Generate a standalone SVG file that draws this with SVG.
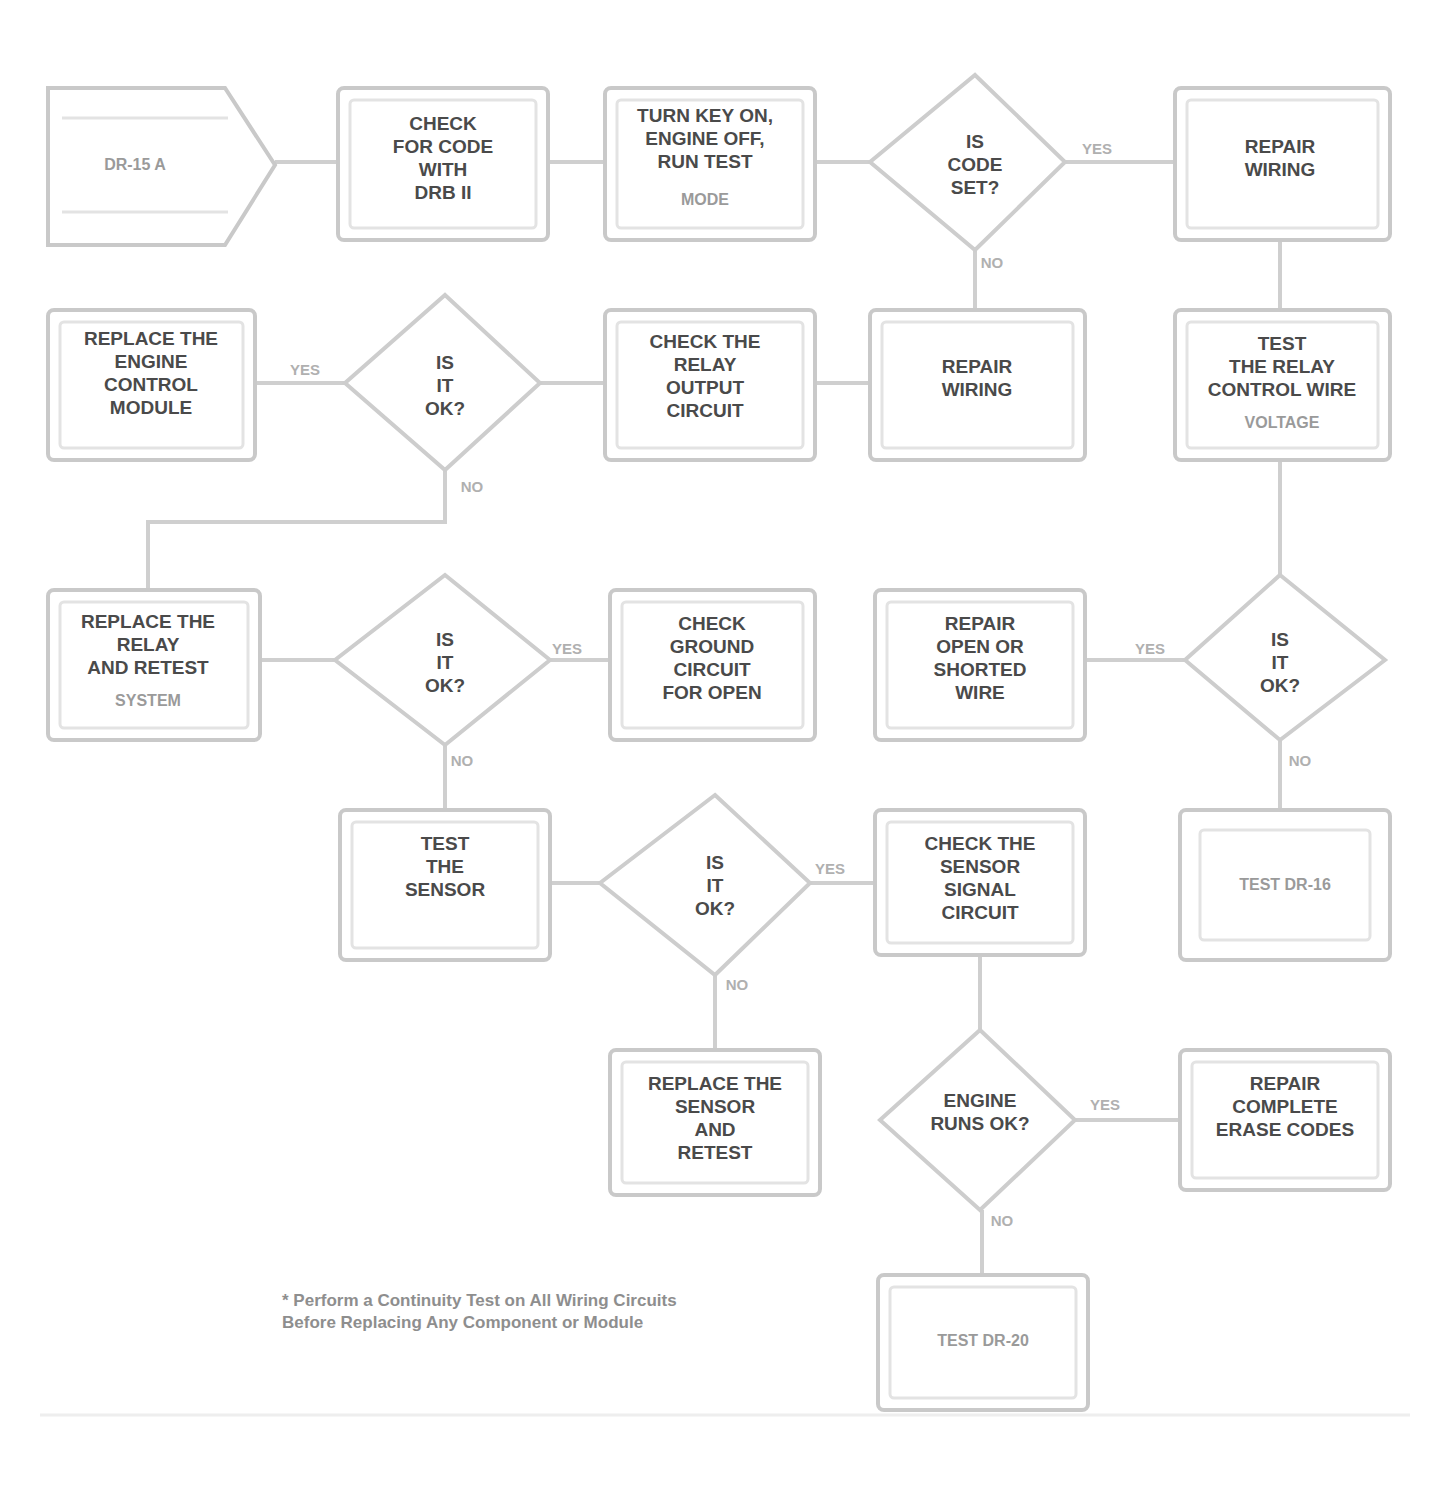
<svg xmlns="http://www.w3.org/2000/svg" width="1445" height="1494" viewBox="0 0 1445 1494">
<style>
.box{fill:#fff;stroke:#c9c9c9;stroke-width:4}
.inner{fill:none;stroke:#e3e3e3;stroke-width:3}
.dia{fill:#fff;stroke:#cdcdcd;stroke-width:4}
.con{fill:none;stroke:#cfcfcf;stroke-width:4}
.t{font-family:"Liberation Sans",Arial,sans-serif;font-weight:bold;fill:#4a4a4a;text-anchor:middle;font-size:19px}
.tl{font-family:"Liberation Sans",Arial,sans-serif;font-weight:bold;fill:#9a9a9a;text-anchor:middle;font-size:16px}
.lbl{font-family:"Liberation Sans",Arial,sans-serif;font-weight:bold;fill:#b0b0b0;text-anchor:middle;font-size:15px}
.fn{font-family:"Liberation Sans",Arial,sans-serif;font-weight:bold;fill:#8e8e8e;font-size:17px}
</style>
<rect width="1445" height="1494" fill="#fff"/>
<g id="connectors">
<line class="con" x1="275" y1="162" x2="338" y2="162"/>
<line class="con" x1="548" y1="162" x2="605" y2="162"/>
<line class="con" x1="815" y1="162" x2="870" y2="162"/>
<line class="con" x1="1065" y1="162" x2="1175" y2="162"/>
<line class="con" x1="975" y1="250" x2="975" y2="310"/>
<line class="con" x1="1280" y1="240" x2="1280" y2="310"/>
<line class="con" x1="815" y1="383" x2="870" y2="383"/>
<line class="con" x1="540" y1="383" x2="605" y2="383"/>
<line class="con" x1="255" y1="383" x2="345" y2="383"/>
<polyline class="con" points="445,470 445,522 148,522 148,590"/>
<line class="con" x1="1280" y1="460" x2="1280" y2="575"/>
<line class="con" x1="260" y1="660" x2="335" y2="660"/>
<line class="con" x1="550" y1="660" x2="610" y2="660"/>
<line class="con" x1="1085" y1="660" x2="1185" y2="660"/>
<line class="con" x1="445" y1="745" x2="445" y2="810"/>
<line class="con" x1="1280" y1="740" x2="1280" y2="810"/>
<line class="con" x1="550" y1="883" x2="600" y2="883"/>
<line class="con" x1="810" y1="883" x2="875" y2="883"/>
<line class="con" x1="715" y1="975" x2="715" y2="1050"/>
<line class="con" x1="980" y1="955" x2="980" y2="1030"/>
<line class="con" x1="1075" y1="1120" x2="1180" y2="1120"/>
<line class="con" x1="982" y1="1210" x2="982" y2="1275"/>
<text class="lbl" x="1097" y="154">YES</text>
<text class="lbl" x="992" y="268">NO</text>
<text class="lbl" x="305" y="375">YES</text>
<text class="lbl" x="472" y="492">NO</text>
<text class="lbl" x="567" y="654">YES</text>
<text class="lbl" x="462" y="766">NO</text>
<text class="lbl" x="1150" y="654">YES</text>
<text class="lbl" x="1300" y="766">NO</text>
<text class="lbl" x="830" y="874">YES</text>
<text class="lbl" x="737" y="990">NO</text>
<text class="lbl" x="1105" y="1110">YES</text>
<text class="lbl" x="1002" y="1226">NO</text>
</g>
<g id="nA">
<path class="box" d="M48,88 H225 L275,165 L225,245 H48 Z"/>
<path class="inner" d="M62,118 H228 M62,212 H228"/>
<text class="tl" x="135" y="170">DR-15 A</text>
</g>
<g id="nB">
<rect class="box" x="338" y="88" width="210" height="152" rx="6"/>
<rect class="inner" x="350" y="100" width="186" height="128" rx="4"/>
<text class="t" x="443" y="130">CHECK</text>
<text class="t" x="443" y="153">FOR CODE</text>
<text class="t" x="443" y="176">WITH</text>
<text class="t" x="443" y="199">DRB II</text>
</g>
<g id="nC">
<rect class="box" x="605" y="88" width="210" height="152" rx="6"/>
<rect class="inner" x="617" y="100" width="186" height="128" rx="4"/>
<text class="t" x="705" y="122">TURN KEY ON,</text>
<text class="t" x="705" y="145">ENGINE OFF,</text>
<text class="t" x="705" y="168">RUN TEST</text>
<text class="tl" x="705" y="205">MODE</text>
</g>
<g id="nD1">
<polygon class="dia" points="975,75 1065,162 975,250 870,162"/>
<text class="t" x="975" y="148">IS</text>
<text class="t" x="975" y="171">CODE</text>
<text class="t" x="975" y="194">SET?</text>
</g>
<g id="nE">
<rect class="box" x="1175" y="88" width="215" height="152" rx="6"/>
<rect class="inner" x="1187" y="100" width="191" height="128" rx="4"/>
<text class="t" x="1280" y="153">REPAIR</text>
<text class="t" x="1280" y="176">WIRING</text>
</g>
<g id="nF">
<rect class="box" x="48" y="310" width="207" height="150" rx="6"/>
<rect class="inner" x="60" y="322" width="183" height="126" rx="4"/>
<text class="t" x="151" y="345">REPLACE THE</text>
<text class="t" x="151" y="368">ENGINE</text>
<text class="t" x="151" y="391">CONTROL</text>
<text class="t" x="151" y="414">MODULE</text>
</g>
<g id="nD2">
<polygon class="dia" points="445,295 540,383 445,470 345,383"/>
<text class="t" x="445" y="369">IS</text>
<text class="t" x="445" y="392">IT</text>
<text class="t" x="445" y="415">OK?</text>
</g>
<g id="nG">
<rect class="box" x="605" y="310" width="210" height="150" rx="6"/>
<rect class="inner" x="617" y="322" width="186" height="126" rx="4"/>
<text class="t" x="705" y="348">CHECK THE</text>
<text class="t" x="705" y="371">RELAY</text>
<text class="t" x="705" y="394">OUTPUT</text>
<text class="t" x="705" y="417">CIRCUIT</text>
</g>
<g id="nH">
<rect class="box" x="870" y="310" width="215" height="150" rx="6"/>
<rect class="inner" x="882" y="322" width="191" height="126" rx="4"/>
<text class="t" x="977" y="373">REPAIR</text>
<text class="t" x="977" y="396">WIRING</text>
</g>
<g id="nI">
<rect class="box" x="1175" y="310" width="215" height="150" rx="6"/>
<rect class="inner" x="1187" y="322" width="191" height="126" rx="4"/>
<text class="t" x="1282" y="350">TEST</text>
<text class="t" x="1282" y="373">THE RELAY</text>
<text class="t" x="1282" y="396">CONTROL WIRE</text>
<text class="tl" x="1282" y="428">VOLTAGE</text>
</g>
<g id="nJ">
<rect class="box" x="48" y="590" width="212" height="150" rx="6"/>
<rect class="inner" x="60" y="602" width="188" height="126" rx="4"/>
<text class="t" x="148" y="628">REPLACE THE</text>
<text class="t" x="148" y="651">RELAY</text>
<text class="t" x="148" y="674">AND RETEST</text>
<text class="tl" x="148" y="706">SYSTEM</text>
</g>
<g id="nD3">
<polygon class="dia" points="445,575 550,660 445,745 335,660"/>
<text class="t" x="445" y="646">IS</text>
<text class="t" x="445" y="669">IT</text>
<text class="t" x="445" y="692">OK?</text>
</g>
<g id="nK">
<rect class="box" x="610" y="590" width="205" height="150" rx="6"/>
<rect class="inner" x="622" y="602" width="181" height="126" rx="4"/>
<text class="t" x="712" y="630">CHECK</text>
<text class="t" x="712" y="653">GROUND</text>
<text class="t" x="712" y="676">CIRCUIT</text>
<text class="t" x="712" y="699">FOR OPEN</text>
</g>
<g id="nL">
<rect class="box" x="875" y="590" width="210" height="150" rx="6"/>
<rect class="inner" x="887" y="602" width="186" height="126" rx="4"/>
<text class="t" x="980" y="630">REPAIR</text>
<text class="t" x="980" y="653">OPEN OR</text>
<text class="t" x="980" y="676">SHORTED</text>
<text class="t" x="980" y="699">WIRE</text>
</g>
<g id="nD4">
<polygon class="dia" points="1280,575 1385,660 1280,740 1185,660"/>
<text class="t" x="1280" y="646">IS</text>
<text class="t" x="1280" y="669">IT</text>
<text class="t" x="1280" y="692">OK?</text>
</g>
<g id="nM">
<rect class="box" x="340" y="810" width="210" height="150" rx="6"/>
<rect class="inner" x="352" y="822" width="186" height="126" rx="4"/>
<text class="t" x="445" y="850">TEST</text>
<text class="t" x="445" y="873">THE</text>
<text class="t" x="445" y="896">SENSOR</text>
</g>
<g id="nD5">
<polygon class="dia" points="715,795 810,883 715,975 600,883"/>
<text class="t" x="715" y="869">IS</text>
<text class="t" x="715" y="892">IT</text>
<text class="t" x="715" y="915">OK?</text>
</g>
<g id="nO">
<rect class="box" x="875" y="810" width="210" height="145" rx="6"/>
<rect class="inner" x="887" y="822" width="186" height="121" rx="4"/>
<text class="t" x="980" y="850">CHECK THE</text>
<text class="t" x="980" y="873">SENSOR</text>
<text class="t" x="980" y="896">SIGNAL</text>
<text class="t" x="980" y="919">CIRCUIT</text>
</g>
<g id="nN">
<rect class="box" x="1180" y="810" width="210" height="150" rx="6"/>
<rect class="inner" x="1200" y="830" width="170" height="110" rx="4"/>
<text class="tl" x="1285" y="890">TEST DR-16</text>
</g>
<g id="nP">
<rect class="box" x="610" y="1050" width="210" height="145" rx="6"/>
<rect class="inner" x="622" y="1062" width="186" height="121" rx="4"/>
<text class="t" x="715" y="1090">REPLACE THE</text>
<text class="t" x="715" y="1113">SENSOR</text>
<text class="t" x="715" y="1136">AND</text>
<text class="t" x="715" y="1159">RETEST</text>
</g>
<g id="nD6">
<polygon class="dia" points="980,1030 1075,1120 980,1210 880,1120"/>
<text class="t" x="980" y="1107">ENGINE</text>
<text class="t" x="980" y="1130">RUNS OK?</text>
</g>
<g id="nQ">
<rect class="box" x="1180" y="1050" width="210" height="140" rx="6"/>
<rect class="inner" x="1192" y="1062" width="186" height="116" rx="4"/>
<text class="t" x="1285" y="1090">REPAIR</text>
<text class="t" x="1285" y="1113">COMPLETE</text>
<text class="t" x="1285" y="1136">ERASE CODES</text>
</g>
<g id="nR">
<rect class="box" x="878" y="1275" width="210" height="135" rx="6"/>
<rect class="inner" x="890" y="1287" width="186" height="111" rx="4"/>
<text class="tl" x="983" y="1346">TEST DR-20</text>
</g>
<text class="fn" x="282" y="1306">* Perform a Continuity Test on All Wiring Circuits</text>
<text class="fn" x="282" y="1328">Before Replacing Any Component or Module</text>
<line x1="40" y1="1415" x2="1410" y2="1415" stroke="#eeeeee" stroke-width="3"/>
</svg>
